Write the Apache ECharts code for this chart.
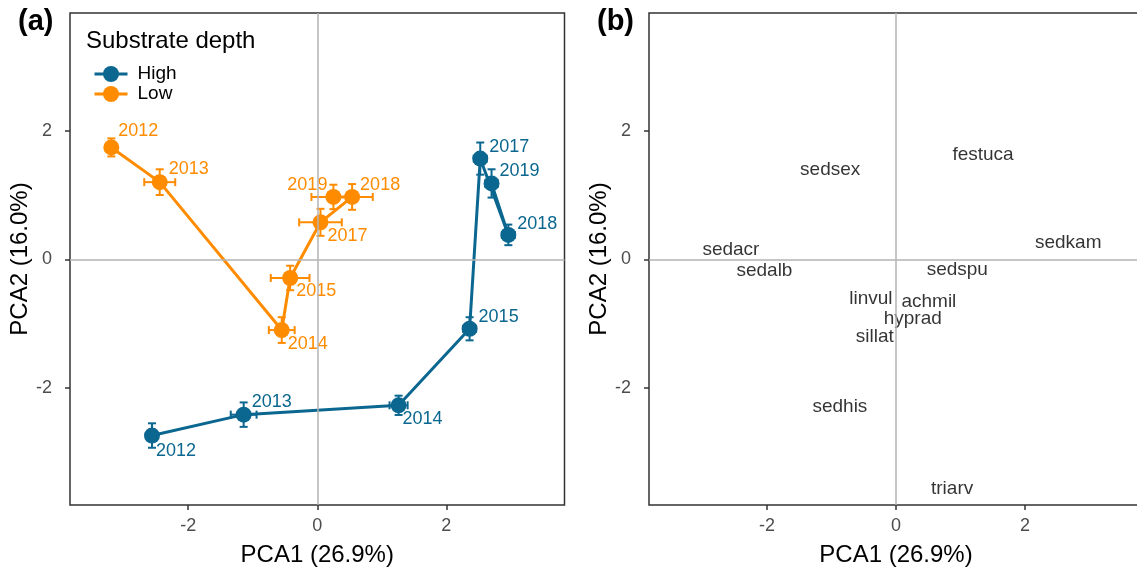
<!DOCTYPE html>
<html>
<head>
    <meta charset="utf-8">
    <script src="https://cdn.jsdelivr.net/npm/echarts@6/dist/echarts.min.js"></script>
</head>
<body style="margin:0">
    <div id="main" style="width: 1137px; height: 567px"></div>
    <script type="text/javascript">
        // panel (a): yearly PCA centroids with standard errors
        var years = ['2012', '2013', '2014', '2015', '2017', '2018', '2019'];
        var highX = [-2.56, -1.14, 1.26, 2.36, 2.525, 2.96, 2.70];
        var highY = [-2.74, -2.415, -2.27, -1.08, 1.566, 0.38, 1.18];
        var highXErr = [0.08, 0.2, 0.14, 0.1, 0.1, 0.1, 0.1];
        var highYErr = [0.19, 0.19, 0.15, 0.18, 0.25, 0.16, 0.22];
        var lowX = [-3.19, -2.44, -0.55, -0.42, 0.05, 0.54, 0.25];
        var lowY = [1.74, 1.20, -1.10, -0.29, 0.575, 0.97, 0.97];
        var lowXErr = [0.08, 0.24, 0.2, 0.3, 0.33, 0.32, 0.34];
        var lowYErr = [0.14, 0.2, 0.2, 0.19, 0.21, 0.2, 0.19];
        // label nudges in px (like ggrepel output)
        var highNudge = [[4, 15], [8, -13], [4, 14], [9, -12], [9, -12], [9, -11], [8, -12]];
        var lowNudge = [[7, -16], [9, -13], [6, 14], [6, 13], [7, 14], [8, -12], [-6, -12]];

        // panel (b): species scores
        var species = ['sedsex', 'festuca', 'sedkam', 'sedacr', 'sedalb', 'sedspu',
                       'linvul', 'achmil', 'hyprad', 'sillat', 'sedhis', 'triarv'];
        var speciesX = [-1.02, 1.35, 2.67, -2.56, -2.04, 0.95, -0.39, 0.51, 0.26, -0.33, -0.87, 0.87];
        var speciesY = [1.40, 1.62, 0.26, 0.145, -0.18, -0.17, -0.62, -0.66, -0.93, -1.20, -2.30, -3.56];

        var tickVals = [-2, 0, 2];

        var blue = '#0B6790';
        var orange = '#FF8C00';
        var font = 'Liberation Sans, Arial, sans-serif';

        function lineData(xs, ys, nudge) {
            var out = [];
            for (var i = 0; i < xs.length; i++) {
                out.push({
                    value: [xs[i], ys[i], years[i]],
                    label: {
                        align: nudge[i][0] < 0 ? 'right' : 'left',
                        offset: nudge[i]
                    }
                });
            }
            return out;
        }

        function errData(xs, ys, xe, ye) {
            var out = [];
            for (var i = 0; i < xs.length; i++) {
                out.push([xs[i], ys[i], xe[i], ye[i]]);
            }
            return out;
        }

        function errRender(color) {
            return function (params, api) {
                var x = api.value(0), y = api.value(1), xe = api.value(2), ye = api.value(3);
                var l = api.coord([x - xe, y]), r = api.coord([x + xe, y]);
                var t = api.coord([x, y + ye]), b = api.coord([x, y - ye]);
                var cap = 4;
                var st = { stroke: color, lineWidth: 2 };
                var segs = [
                    [l[0], l[1], r[0], r[1]],
                    [l[0], l[1] - cap, l[0], l[1] + cap],
                    [r[0], r[1] - cap, r[0], r[1] + cap],
                    [t[0], t[1], b[0], b[1]],
                    [t[0] - cap, t[1], t[0] + cap, t[1]],
                    [b[0] - cap, b[1], b[0] + cap, b[1]]
                ];
                return {
                    type: 'group',
                    children: segs.map(function (s) {
                        return { type: 'line', shape: { x1: s[0], y1: s[1], x2: s[2], y2: s[3] }, style: st };
                    })
                };
            };
        }

        function speciesData() {
            var out = [];
            for (var i = 0; i < species.length; i++) {
                out.push([speciesX[i], speciesY[i], species[i]]);
            }
            return out;
        }

        function xAxis(idx) {
            return {
                type: 'value', gridIndex: idx, min: -3.83, max: 3.83,
                name: 'PCA1 (26.9%)', nameLocation: 'middle', nameGap: 38,
                nameTextStyle: { fontFamily: font, fontSize: 24, color: '#000' },
                axisLine: { show: false, onZero: false },
                axisTick: { show: true, length: 5, customValues: tickVals, lineStyle: { color: '#333', width: 1.5 } },
                axisLabel: { customValues: tickVals, margin: 12, fontFamily: font, fontSize: 18, color: '#4d4d4d' },
                splitLine: { show: false }
            };
        }

        function yAxis(idx) {
            return {
                type: 'value', gridIndex: idx, min: -3.82, max: 3.83,
                name: 'PCA2 (16.0%)', nameLocation: 'middle', nameGap: 32,
                nameTextStyle: { fontFamily: font, fontSize: 24, color: '#000' },
                axisLine: { show: false, onZero: false },
                axisTick: { show: true, length: 5, customValues: tickVals, lineStyle: { color: '#333', width: 1.5 } },
                axisLabel: { customValues: tickVals, margin: 18, fontFamily: font, fontSize: 18, color: '#4d4d4d' },
                splitLine: { show: false }
            };
        }

        var zeroLines = {
            silent: true, symbol: 'none', label: { show: false },
            lineStyle: { color: '#b3b3b3', width: 1.5, type: 'solid' },
            data: [{ xAxis: 0 }, { yAxis: 0 }]
        };

        var myChart = echarts.init(document.getElementById('main'));
        var option = {
            animation: false,
            textStyle: { fontFamily: font },
            grid: [
                { left: 70, top: 13, width: 494.5, height: 492, outerBoundsMode: 'none', show: true, borderColor: '#333', borderWidth: 1.5, backgroundColor: '#fff' },
                { left: 649, top: 13, width: 494, height: 492, outerBoundsMode: 'none', show: true, borderColor: '#333', borderWidth: 1.5, backgroundColor: '#fff' }
            ],
            xAxis: [xAxis(0), xAxis(1)],
            yAxis: [yAxis(0), yAxis(1)],
            graphic: [
                { type: 'text', left: 18, top: 7, style: { text: '(a)', font: 'bold 29px ' + font, fill: '#000' } },
                { type: 'text', left: 597, top: 7, style: { text: '(b)', font: 'bold 29px ' + font, fill: '#000' } },
                { type: 'text', left: 86, top: 29, style: { text: 'Substrate depth', font: '24px ' + font, fill: '#000' } }
            ],
            legend: {
                data: ['High', 'Low'],
                orient: 'vertical', left: 88, top: 59,
                itemWidth: 33, itemHeight: 20, itemGap: 0,
                lineStyle: { width: 3 },
                textStyle: { fontFamily: font, fontSize: 19, color: '#000', lineHeight: 20, padding: [0, 0, 0, 5] }
            },
            series: [
                {
                    type: 'scatter', name: 'zero-a', xAxisIndex: 0, yAxisIndex: 0, data: [],
                    markLine: zeroLines
                },
                {
                    type: 'scatter', name: 'zero-b', xAxisIndex: 1, yAxisIndex: 1, data: [],
                    markLine: zeroLines
                },
                {
                    type: 'custom', name: 'High-se', xAxisIndex: 0, yAxisIndex: 0,
                    renderItem: errRender(blue), encode: { x: 0, y: 1 },
                    data: errData(highX, highY, highXErr, highYErr), z: 2
                },
                {
                    type: 'custom', name: 'Low-se', xAxisIndex: 0, yAxisIndex: 0,
                    renderItem: errRender(orange), encode: { x: 0, y: 1 },
                    data: errData(lowX, lowY, lowXErr, lowYErr), z: 2
                },
                {
                    type: 'line', name: 'High', xAxisIndex: 0, yAxisIndex: 0,
                    data: lineData(highX, highY, highNudge),
                    symbol: 'circle', symbolSize: 16, z: 3,
                    itemStyle: { color: blue },
                    lineStyle: { color: blue, width: 3 },
                    label: {
                        show: true, position: 'inside', verticalAlign: 'middle',
                        formatter: function (p) { return p.value[2]; },
                        fontFamily: font, fontSize: 18, color: blue
                    }
                },
                {
                    type: 'line', name: 'Low', xAxisIndex: 0, yAxisIndex: 0,
                    data: lineData(lowX, lowY, lowNudge),
                    symbol: 'circle', symbolSize: 16, z: 3,
                    itemStyle: { color: orange },
                    lineStyle: { color: orange, width: 3 },
                    label: {
                        show: true, position: 'inside', verticalAlign: 'middle',
                        formatter: function (p) { return p.value[2]; },
                        fontFamily: font, fontSize: 18, color: orange
                    }
                },
                {
                    type: 'scatter', name: 'species', xAxisIndex: 1, yAxisIndex: 1,
                    data: speciesData(), symbolSize: 1,
                    itemStyle: { color: 'rgba(0,0,0,0)' },
                    label: {
                        show: true, position: 'inside',
                        formatter: function (p) { return p.value[2]; },
                        fontFamily: font, fontSize: 19, color: '#000', textBorderWidth: 0
                    }
                }
            ]
        };
        myChart.setOption(option);
    </script>
</body>
</html>
